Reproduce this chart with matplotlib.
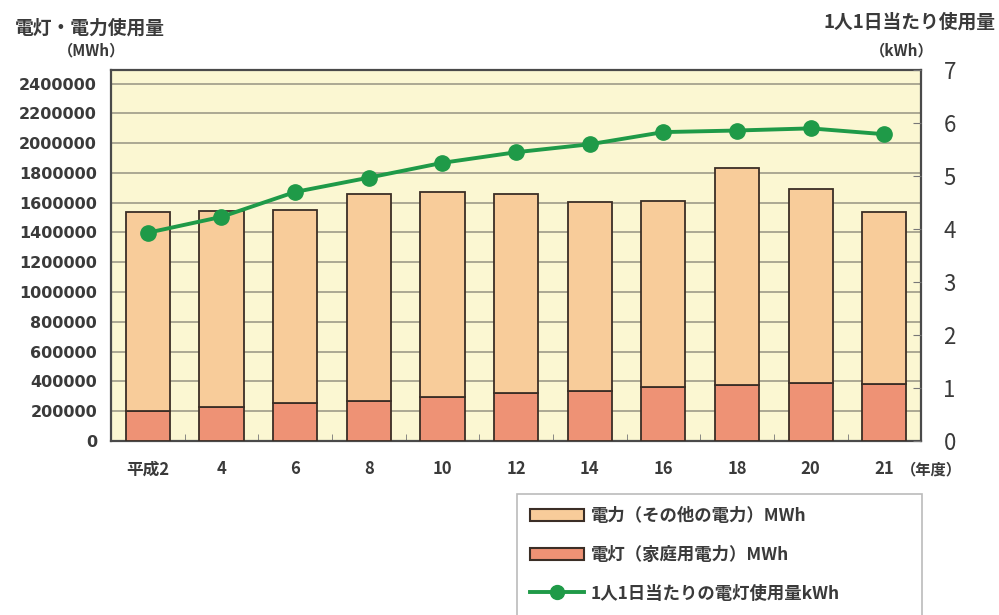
import matplotlib.pyplot as plt
import numpy as np
from matplotlib.lines import Line2D
from matplotlib.patches import Patch

plt.rcParams["font.family"] = ["Noto Sans CJK JP", "DejaVu Sans"]

years = ["平成2", "4", "6", "8", "10", "12", "14", "16", "18", "20", "21"]
total_mwh = [1540000, 1545000, 1550000, 1660000, 1670000, 1656000,
             1605000, 1612000, 1830000, 1692000, 1540000]
lamp_mwh = [201000, 228000, 258000, 268000, 295000, 322000,
            335000, 360000, 375000, 388000, 382000]
per_person_kwh = [3.93, 4.23, 4.70, 4.97, 5.25, 5.45, 5.60, 5.83, 5.86, 5.90, 5.79]

power_mwh = [t - l for t, l in zip(total_mwh, lamp_mwh)]

c_power = "#F8CC9A"
c_lamp = "#EE9275"
c_line = "#1F9A48"
c_edge = "#3B2E26"
c_text = "#3A3A3A"

fig = plt.figure(figsize=(9.99, 6.15), dpi=100)
ax = fig.add_axes([0.1111, 0.283, 0.811, 0.603])
ax.set_facecolor("#FBF7D2")

x = np.arange(len(years))
ax.bar(x, lamp_mwh, width=0.6, color=c_lamp, edgecolor=c_edge, linewidth=1.3, zorder=3)
ax.bar(x, power_mwh, width=0.6, bottom=lamp_mwh, color=c_power,
       edgecolor=c_edge, linewidth=1.3, zorder=3)

ax.set_xlim(-0.5, len(years) - 0.5)
ax.set_ylim(0, 2490000)
ax.set_yticks(np.arange(0, 2400001, 200000))
ax.set_yticklabels([str(v) for v in range(0, 2400001, 200000)],
                   family=["DejaVu Sans"])
ax.grid(axis="y", color="#9E9B88", linewidth=1.2, zorder=0)
ax.set_axisbelow(True)
ax.tick_params(axis="y", length=0, labelsize=11.5, colors=c_text, pad=10)
ax.set_xticks(x)
ax.set_xticklabels(years)
ax.tick_params(axis="x", length=0, labelsize=12, colors=c_text, pad=14)
ax.set_xticks(np.arange(0.5, len(years) - 1, 1), minor=True)
ax.tick_params(axis="x", which="minor", direction="in", length=5, color="#777777")
for lab in ax.get_xticklabels() + ax.get_yticklabels():
    lab.set_fontweight("bold")
for s in ax.spines.values():
    s.set_color("#4A4A4A")
    s.set_linewidth(1.6)

ax2 = ax.twinx()
ax2.plot(x, per_person_kwh, color=c_line, linewidth=2.8, marker="o",
         markersize=11, zorder=5)
ax2.set_ylim(0, 7)
ax2.set_yticks(range(0, 8))
ax2.tick_params(axis="y", direction="in", length=6, color="#777777",
                labelsize=16, labelcolor=c_text, pad=16)
for s in ax2.spines.values():
    s.set_visible(False)

fig.text(0.015, 0.945, "電灯・電力使用量", fontsize=13.5, fontweight="bold", color=c_text)
fig.text(0.058, 0.91, "（MWh）", fontsize=11, fontweight="bold", color=c_text)
fig.text(0.996, 0.955, "1人1日当たり使用量", fontsize=13.5, fontweight="bold",
         color=c_text, ha="right")
fig.text(0.935, 0.91, "（kWh）", fontsize=11, fontweight="bold", color=c_text,
         ha="right")
fig.text(0.902, 0.228, "（年度）", fontsize=11, fontweight="bold", color=c_text)

handles = [
    Patch(facecolor=c_power, edgecolor=c_edge, linewidth=1.5),
    Patch(facecolor=c_lamp, edgecolor=c_edge, linewidth=1.5),
    Line2D([0], [0], color=c_line, linewidth=2.8, marker="o", markersize=10),
]
labels = ["電力（その他の電力）MWh", "電灯（家庭用電力）MWh", "1人1日当たりの電灯使用量kWh"]
leg = fig.legend(handles, labels, loc="upper left",
                 bbox_to_anchor=(0.5175, 0.197, 0.405, 0.0), mode="expand",
                 borderaxespad=0, frameon=True, fancybox=False, fontsize=12.5,
                 labelspacing=1.2, handlelength=3.1, handletextpad=0.4,
                 borderpad=0.75)
leg.get_frame().set_edgecolor("#AAAAAA")
leg.get_frame().set_linewidth(1.2)
for t in leg.get_texts():
    t.set_fontweight("bold")
    t.set_color(c_text)

fig.savefig("out.png", dpi=100)
